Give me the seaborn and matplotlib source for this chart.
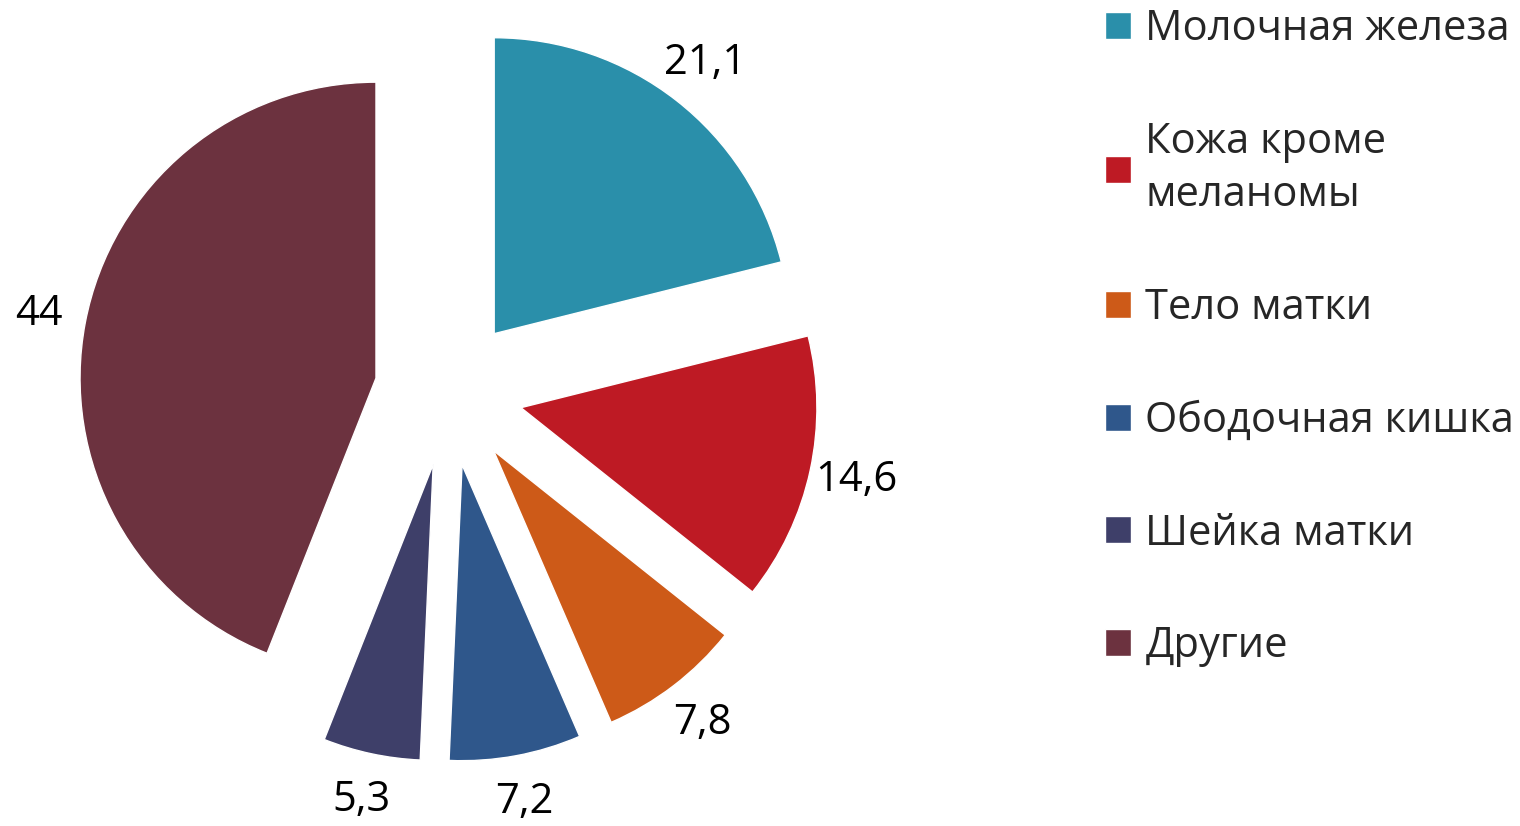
import matplotlib
matplotlib.use('Agg')
import matplotlib.pyplot as plt
import seaborn as sns

# data
categories = ['Молочная железа', 'Кожа кроме\nмеланомы', 'Тело матки',
              'Ободочная кишка', 'Шейка матки', 'Другие']
values = [21.1, 14.6, 7.8, 7.2, 5.3, 44]
value_labels = ['21,1', '14,6', '7,8', '7,2', '5,3', '44']
colors = ['#2A8FAA', '#BE1A24', '#CD5A18', '#2F578B', '#3E3F69', '#6C323F']

sns.set_style('white')
plt.rcParams['font.family'] = ['Open Sans', 'DejaVu Sans']

fig = plt.figure(figsize=(15.2, 8.26), dpi=100)
ax = fig.add_axes([0, 0, 1, 1])

wedges, texts = ax.pie(values, labels=value_labels, colors=colors,
                       startangle=90, counterclock=False,
                       explode=[0.25] * len(values), radius=1,
                       labeldistance=1.16,
                       textprops={'fontsize': 30, 'color': 'black'})
for t in texts:
    t.set_ha('center')
    t.set_va('center')

ax.set_xlim(-1.516, 3.62)
ax.set_ylim(-1.466, 1.324)
ax.set_aspect('equal')
ax.axis('off')

leg = ax.legend(wedges, categories, loc='upper left',
                bbox_to_anchor=(1105 / 1520, 1 - 8 / 826),
                bbox_transform=fig.transFigure,
                frameon=False, fontsize=30,
                handlelength=0.62, handleheight=0.62, handletextpad=0.35,
                labelspacing=1.7, borderpad=0, borderaxespad=0)
for t in leg.get_texts():
    t.set_linespacing(1.35)

fig.savefig('out.png', dpi=100)
